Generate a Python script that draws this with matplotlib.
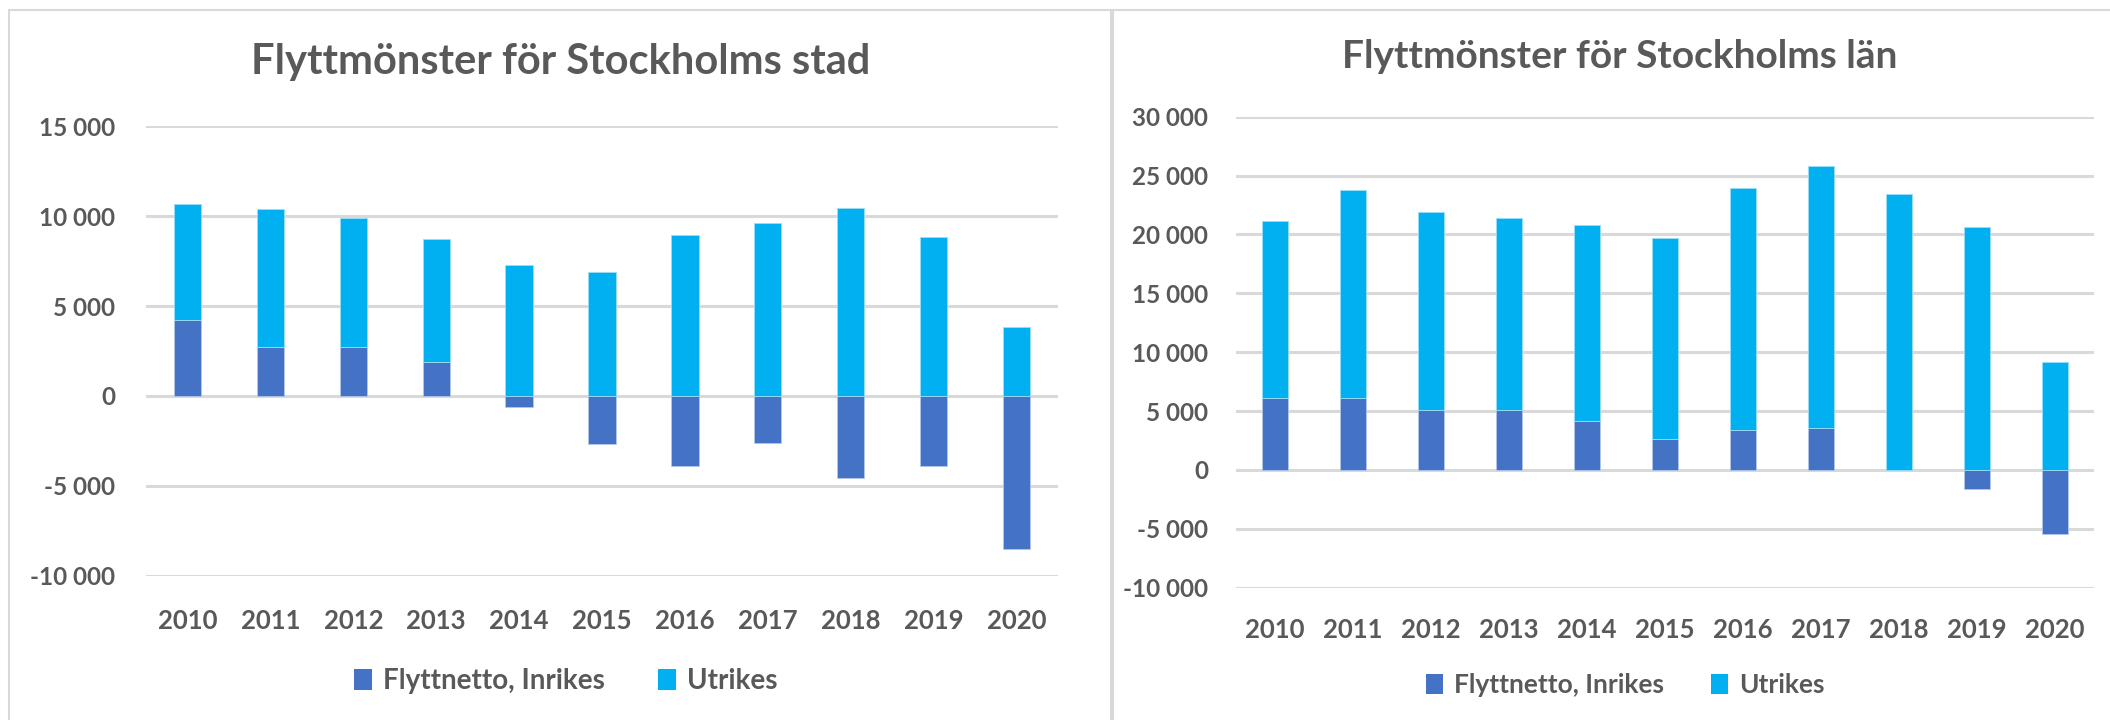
import matplotlib
matplotlib.use("Agg")
import matplotlib.pyplot as plt
from matplotlib.patches import Rectangle, Patch
from matplotlib.ticker import FuncFormatter
import numpy as np

plt.rcParams['font.family'] = ['Lato', 'DejaVu Sans']

years = ["2010", "2011", "2012", "2013", "2014", "2015", "2016", "2017", "2018", "2019", "2020"]

# Stockholms stad
stad_inrikes = [4250, 2700, 2700, 1900, -600, -2700, -3900, -2600, -4550, -3900, -8500]
stad_utrikes = [6430, 7720, 7200, 6830, 7270, 6880, 8980, 9630, 10440, 8850, 3860]

# Stockholms län
lan_inrikes = [6150, 6150, 5080, 5080, 4120, 2650, 3360, 3530, 0, -1580, -5480]
lan_utrikes = [15030, 17660, 16830, 16300, 16690, 17060, 20620, 22290, 23420, 20650, 9150]

C_IN = "#4472C4"
C_UT = "#00B0F0"
TXT = "#595959"
GRID = "#D9D9D9"

W, H = 2110, 720
fig = plt.figure(figsize=(W / 100, H / 100), dpi=100)

def fx(px):
    return px / W

def fy(py):
    return 1 - py / H

# frames
fig.patches.append(Rectangle((fx(9), fy(740)), fx(1111 - 9), (740 - 10) / H,
                             transform=fig.transFigure, fill=False,
                             edgecolor=GRID, linewidth=1.5))
fig.patches.append(Rectangle((fx(1113), fy(740)), fx(2130 - 1113), (740 - 10) / H,
                             transform=fig.transFigure, fill=False,
                             edgecolor=GRID, linewidth=1.5))

def fmt(v, pos):
    v = int(round(v))
    s = f"{abs(v):,}".replace(",", " ")
    return ("-" if v < 0 else "") + s

def panel(x0, x1, ytop, ybot, ylim, step, inr, utr, title, tsize, tcx, tcy,
          lcx, lcy, lsize, colsp, ypad, xpad):
    ax = fig.add_axes([fx(x0), fy(ybot), fx(x1 - x0), (ybot - ytop) / H])
    x = np.arange(len(years))
    inr = np.array(inr, dtype=float)
    utr = np.array(utr, dtype=float)
    bottom_ut = np.maximum(inr, 0)
    ax.bar(x, inr, width=0.33, color=C_IN, edgecolor="#B4C7E7", linewidth=0.6, zorder=3)
    ax.bar(x, utr, bottom=bottom_ut, width=0.33, color=C_UT, edgecolor="#9DDCF7", linewidth=0.6, zorder=3)
    ax.set_xlim(-0.5, len(years) - 0.5)
    ax.set_ylim(*ylim)
    ax.set_yticks(np.arange(ylim[0], ylim[1] + 1, step))
    ax.yaxis.set_major_formatter(FuncFormatter(fmt))
    ax.set_xticks(x)
    ax.set_xticklabels(years)
    for s in ax.spines.values():
        s.set_visible(False)
    ax.grid(axis="y", color=GRID, linewidth=2.2, zorder=0)
    ax.set_axisbelow(True)
    ax.tick_params(axis="both", length=0, labelcolor=TXT)
    ax.tick_params(axis="y", pad=ypad, labelsize=17.5)
    ax.tick_params(axis="x", pad=xpad, labelsize=18.5)
    for lab in ax.get_xticklabels() + ax.get_yticklabels():
        lab.set_fontweight("bold")
    fig.text(fx(tcx), fy(tcy), title, ha="center", va="center",
             fontsize=tsize, fontweight="bold", color=TXT)
    handles = [Patch(facecolor=C_IN, edgecolor="none"), Patch(facecolor=C_UT, edgecolor="none")]
    leg = fig.legend(handles, ["Flyttnetto, Inrikes", "Utrikes"], loc="center",
                     bbox_to_anchor=(fx(lcx), fy(lcy)), ncol=2, frameon=False,
                     handlelength=0.65, handleheight=0.8, handletextpad=0.4,
                     columnspacing=colsp,
                     prop={"size": lsize, "weight": "bold"})
    for t in leg.get_texts():
        t.set_color(TXT)
    return ax

panel(146, 1058, 126.3, 575.7, (-10000, 15000), 5000, stad_inrikes, stad_utrikes,
      "Flyttmönster för Stockholms stad", 30, 561, 62, 566, 681, 20, 1.9, 22, 24)
panel(1236, 2094, 116.7, 587.7, (-10000, 30000), 5000, lan_inrikes, lan_utrikes,
      "Flyttmönster för Stockholms län", 28, 1620, 57, 1625, 685, 19, 1.8, 20, 22)

fig.savefig("out.png", dpi=100, facecolor="white")
